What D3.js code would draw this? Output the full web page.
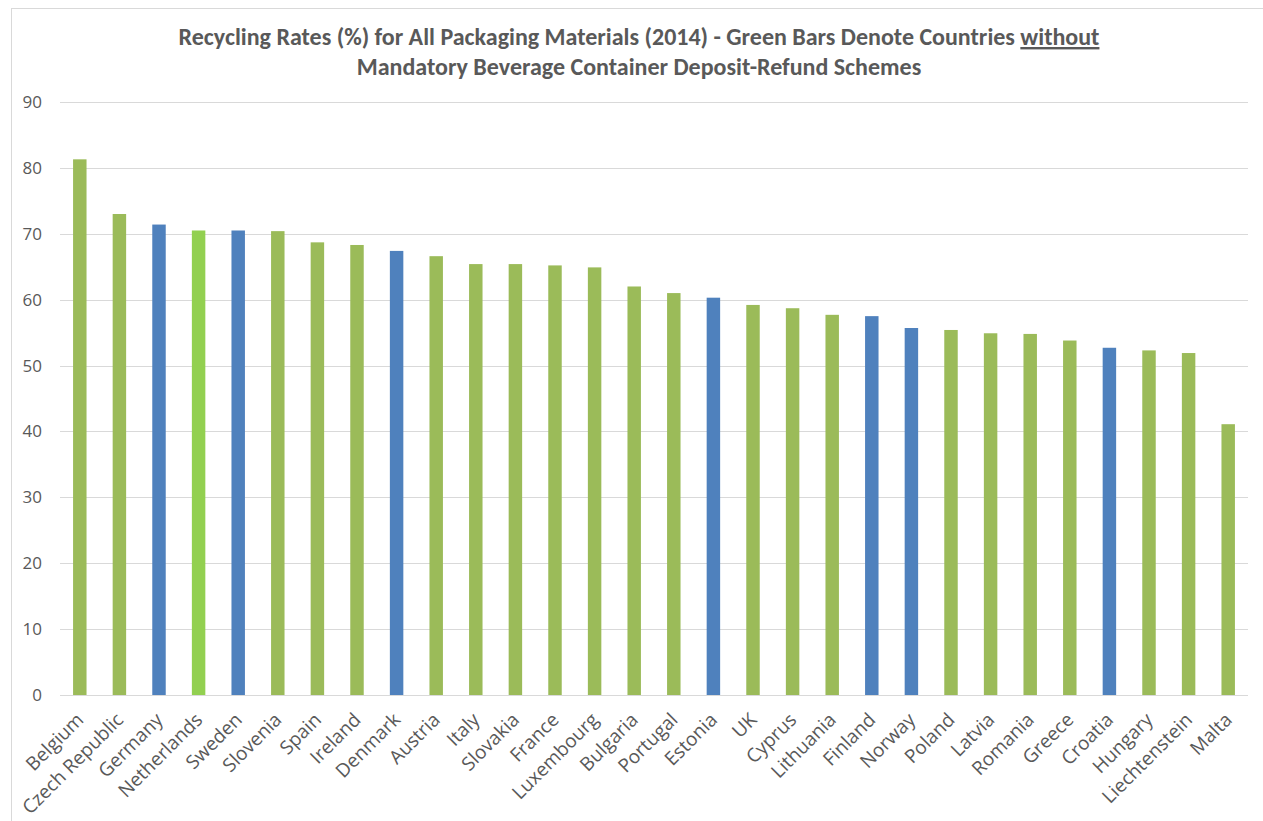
<!DOCTYPE html>
<html>
<head>
<meta charset="utf-8">
<script src="https://cdn.jsdelivr.net/npm/d3@7"></script>
<style>
  html, body { margin: 0; padding: 0; background: #fff; }
  svg { display: block; }
</style>
</head>
<body>
<svg id="chart" width="1263" height="821"></svg>
<script>
// Recycling rates (%) for all packaging materials, 2014
const countries = ["Belgium", "Czech Republic", "Germany", "Netherlands", "Sweden", "Slovenia",
  "Spain", "Ireland", "Denmark", "Austria", "Italy", "Slovakia", "France", "Luxembourg",
  "Bulgaria", "Portugal", "Estonia", "UK", "Cyprus", "Lithuania", "Finland", "Norway",
  "Poland", "Latvia", "Romania", "Greece", "Croatia", "Hungary", "Liechtenstein", "Malta"];
const rates = [81.3, 73.0, 71.4, 70.5, 70.5, 70.4, 68.7, 68.3, 67.4, 66.6, 65.4, 65.4, 65.2,
  64.9, 62.0, 61.0, 60.3, 59.2, 58.7, 57.7, 57.5, 55.7, 55.4, 54.9, 54.8, 53.8, 52.7, 52.3,
  51.9, 41.1];
// "none" = no mandatory deposit-refund scheme, "deposit" = scheme in place
const schemeGroup = ["none", "none", "deposit", "highlight", "deposit", "none", "none", "none",
  "deposit", "none", "none", "none", "none", "none", "none", "none", "deposit", "none", "none",
  "none", "deposit", "deposit", "none", "none", "none", "none", "deposit", "none", "none", "none"];
const yTicks = [0, 10, 20, 30, 40, 50, 60, 70, 80, 90];

const data = countries.map((c, i) => ({ country: c, rate: rates[i], group: schemeGroup[i] }));
const colors = { none: "#9BBB59", deposit: "#4F81BD", highlight: "#92D050" };

const svg = d3.select("#chart");
const titleFont = "Carlito, Calibri, Lato, sans-serif";
const axisFont = "'Open Sans', 'Segoe UI', sans-serif";
const plot = { left: 60, right: 1248, top: 102, bottom: 695 };

// chart frame
svg.append("rect")
  .attr("x", 11.5).attr("y", 8.5)
  .attr("width", 1300).attr("height", 900)
  .attr("fill", "none").attr("stroke", "#d9d9d9").attr("stroke-width", 1);

const x = d3.scaleBand()
  .domain(countries)
  .range([plot.left, plot.right])
  .paddingInner(0.66)
  .paddingOuter(0.33);

const y = d3.scaleLinear()
  .domain([0, 90])
  .range([plot.bottom, plot.top]);

// gridlines and value labels
const yAxis = d3.axisLeft(y)
  .tickValues(yTicks)
  .tickSize(-(plot.right - plot.left))
  .tickPadding(18);

const gy = svg.append("g")
  .attr("transform", `translate(${plot.left},0)`)
  .call(yAxis);
gy.select(".domain").remove();
gy.selectAll(".tick line")
  .attr("stroke", "#d9d9d9")
  .attr("stroke-width", 1)
  .attr("shape-rendering", "crispEdges");
gy.selectAll(".tick text")
  .attr("fill", "#595959")
  .style("font-family", axisFont)
  .style("font-size", "17px");

// bars
svg.append("g")
  .selectAll("rect")
  .data(data)
  .join("rect")
  .attr("x", d => x(d.country))
  .attr("y", d => y(d.rate))
  .attr("width", x.bandwidth())
  .attr("height", d => y(0) - y(d.rate))
  .attr("fill", d => colors[d.group]);

// category axis
const xAxis = d3.axisBottom(x).tickSize(0).tickPadding(0);
const gx = svg.append("g")
  .attr("transform", `translate(0,${plot.bottom})`)
  .call(xAxis);
gx.select(".domain")
  .attr("stroke", "#d9d9d9")
  .attr("d", `M${plot.left},0.5H${plot.right}`);
gx.selectAll(".tick text")
  .attr("fill", "#595959")
  .style("font-family", axisFont)
  .style("font-size", "19px")
  .attr("text-anchor", "end")
  .attr("dy", "0")
  .attr("y", 0)
  .attr("transform", "translate(5,26) rotate(-45)");

// title
const title = svg.append("g")
  .attr("fill", "#595959")
  .style("font-family", titleFont)
  .style("font-size", "24px")
  .style("font-weight", "bold")
  .attr("text-anchor", "middle");
const line1 = title.append("text").attr("x", 639).attr("y", 45);
line1.append("tspan").text("Recycling Rates (%) for All Packaging Materials (2014) - Green Bars Denote Countries ");
line1.append("tspan").style("text-decoration", "underline").text("without");
title.append("text").attr("x", 639).attr("y", 75)
  .text("Mandatory Beverage Container Deposit-Refund Schemes");
</script>
</body>
</html>
